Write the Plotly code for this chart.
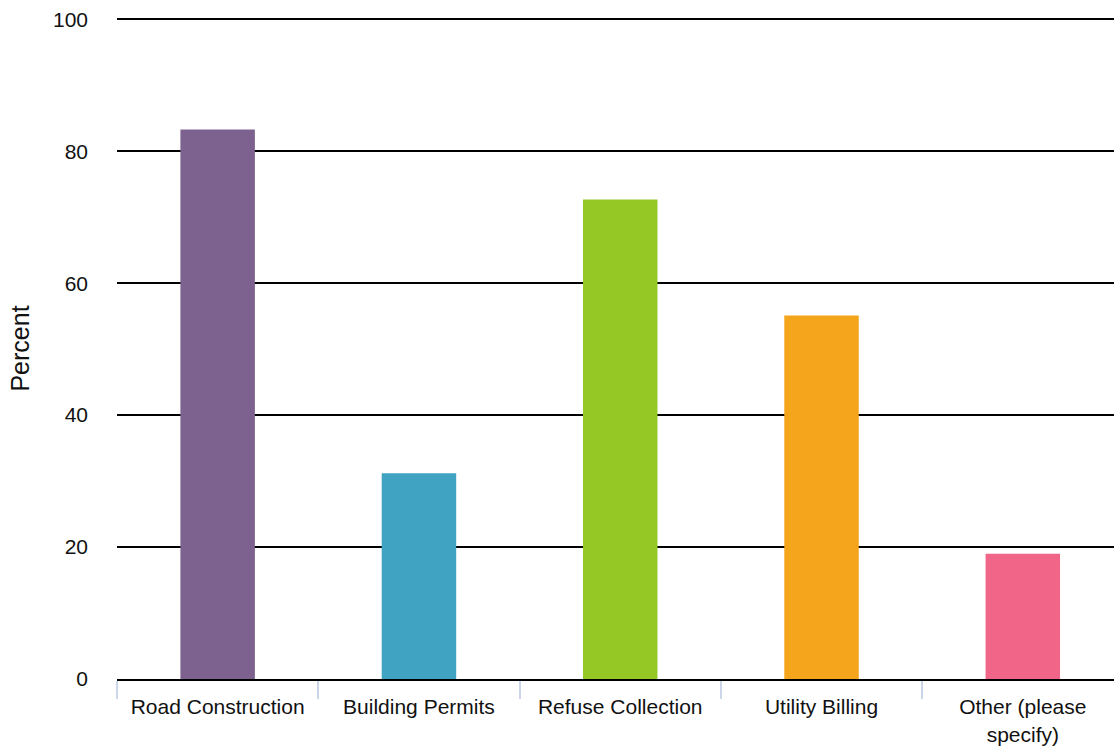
import plotly.graph_objects as go

# Survey responses: share of respondents per service (percent)
categories = ["Road Construction", "Building Permits", "Refuse Collection",
              "Utility Billing", "Other (please<br>specify)"]
percent = [83.3, 31.2, 72.7, 55.1, 19.0]
bar_colors = ["#7d618e", "#41a3c2", "#95c825", "#f5a51b", "#f06588"]
y_ticks = [0, 20, 40, 60, 80, 100]

fig = go.Figure(
    go.Bar(
        x=categories,
        y=percent,
        marker=dict(color=bar_colors, line=dict(width=0)),
        width=0.37,
        hoverinfo="x+y",
    )
)

font_family = "Liberation Sans, Arial, sans-serif"

fig.update_layout(
    width=1114,
    height=747,
    margin=dict(l=117, r=0, t=18, b=68),
    paper_bgcolor="white",
    plot_bgcolor="white",
    showlegend=False,
    font=dict(family=font_family, size=21, color="#111111"),
)

fig.update_xaxes(
    type="category",
    range=[-0.5, 4.453],
    showgrid=False,
    showline=True,
    linecolor="#000000",
    linewidth=2,
    ticks="outside",
    tickson="boundaries",
    ticklen=18,
    tickwidth=1.5,
    tickcolor="#ccd6eb",
    ticklabelstandoff=8,
    tickfont=dict(size=21, color="#111111"),
    fixedrange=True,
)

fig.update_yaxes(
    range=[0, 100.2],
    tickvals=y_ticks,
    showgrid=True,
    gridcolor="#000000",
    gridwidth=1.5,
    zeroline=False,
    showline=False,
    ticks="",
    ticklabelstandoff=28,
    tickfont=dict(size=21, color="#111111"),
    title=dict(text="Percent", font=dict(size=25, color="#111111"), standoff=16),
    fixedrange=True,
)

fig.write_html("out.html")
